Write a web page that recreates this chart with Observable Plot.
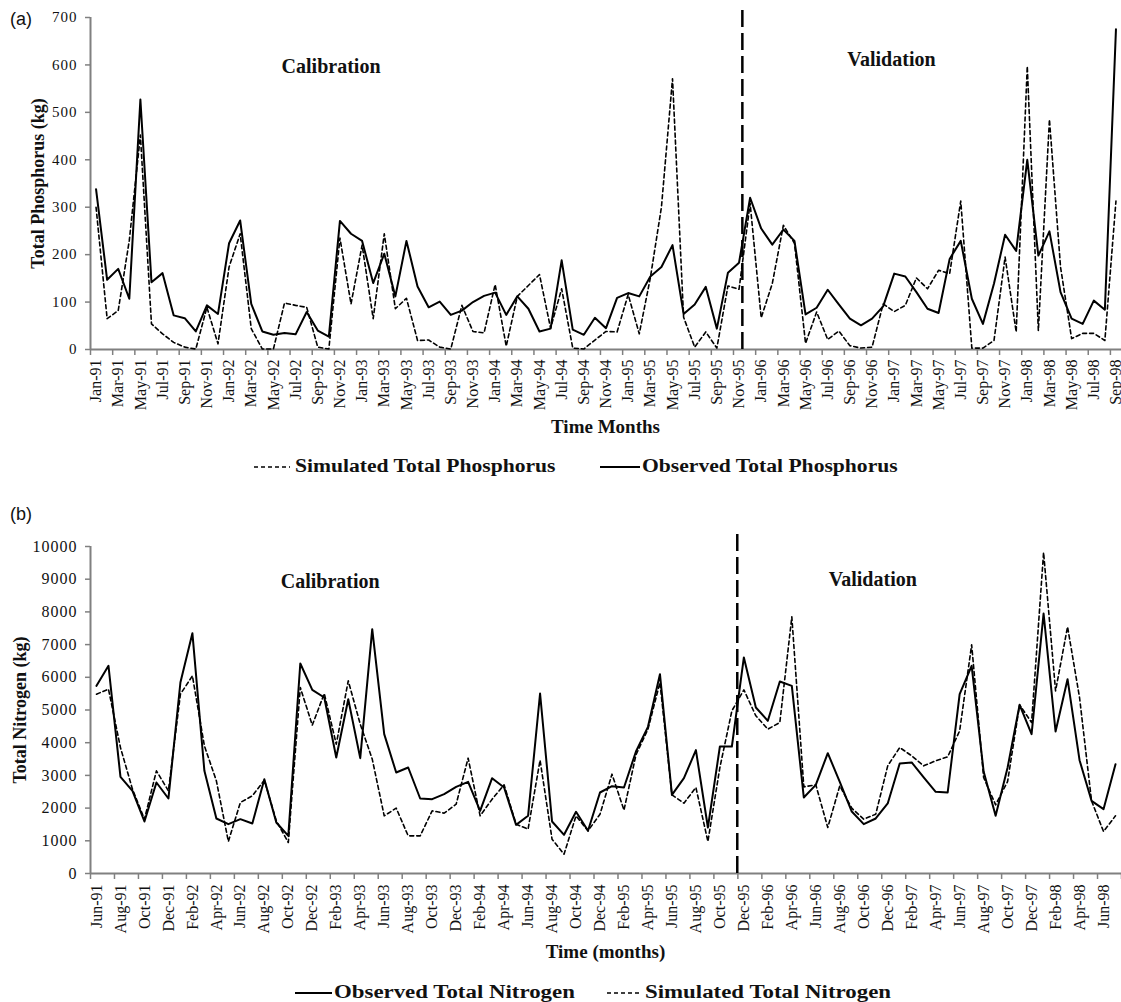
<!DOCTYPE html>
<html>
<head>
<meta charset="utf-8">
<script src="https://cdn.jsdelivr.net/npm/d3@7"></script>
<script src="https://cdn.jsdelivr.net/npm/@observablehq/plot@0.6"></script>
<style>
  body { margin: 0; background: #fff; }
  #wrap { position: relative; width: 1121px; height: 1002px; overflow: hidden; font-family: "Liberation Serif", "Times New Roman", serif; color: #111; background: #fff; }
  .abs { position: absolute; white-space: nowrap; }
  .panel { font-family: "Liberation Sans", Arial, sans-serif; font-size: 18px; line-height: 18px; }
  .xtitle { left: 90px; width: 1031px; text-align: center; font-weight: bold; font-size: 19px; line-height: 19px; }
  .leg { font-weight: bold; font-size: 18px; line-height: 18px; display: inline-block; transform: scaleX(1.2); transform-origin: 0 50%; }
  .legb { transform: scaleX(1.27); }
  .plotbox { position: absolute; left: 0; }
  g[aria-label="y-axis tick label"] text { letter-spacing: 1px; }
</style>
</head>
<body>
<div id="wrap">
  <div class="abs panel" style="left:10px;top:10px;">(a)</div>
  <div class="plotbox" id="pa" style="top:0px;"></div>
  <div class="abs xtitle" style="top:417px;">Time Months</div>
  <svg class="abs" style="left:254px;top:459px;" width="36" height="14"><line x1="0" x2="36" y1="8" y2="8" stroke="#000" stroke-width="1.6" stroke-dasharray="4,3"/></svg>
  <div class="abs" style="left:295px;top:457px;"><span class="leg">Simulated Total Phosphorus</span></div>
  <svg class="abs" style="left:600px;top:459px;" width="40" height="14"><line x1="0" x2="40" y1="8" y2="8" stroke="#000" stroke-width="2"/></svg>
  <div class="abs" style="left:642px;top:457px;"><span class="leg">Observed Total Phosphorus</span></div>

  <div class="abs panel" style="left:10px;top:505px;">(b)</div>
  <div class="plotbox" id="pb" style="top:500px;"></div>
  <div class="abs xtitle" style="top:942px;">Time (months)</div>
  <svg class="abs" style="left:295px;top:985px;" width="37" height="14"><line x1="0" x2="37" y1="8" y2="8" stroke="#000" stroke-width="2"/></svg>
  <div class="abs" style="left:334px;top:983px;"><span class="leg legb">Observed Total Nitrogen</span></div>
  <svg class="abs" style="left:607px;top:985px;" width="33" height="14"><line x1="0" x2="33" y1="8" y2="8" stroke="#000" stroke-width="1.6" stroke-dasharray="4,3"/></svg>
  <div class="abs" style="left:645px;top:983px;"><span class="leg legb">Simulated Total Nitrogen</span></div>
</div>
<script>
// ---------- Panel (a): Total Phosphorus, monthly Jan-91 .. Sep-98 ----------
const tpTickLabels = ["Jan-91","Mar-91","May-91","Jul-91","Sep-91","Nov-91",
  "Jan-92","Mar-92","May-92","Jul-92","Sep-92","Nov-92",
  "Jan-93","Mar-93","May-93","Jul-93","Sep-93","Nov-93",
  "Jan-94","Mar-94","May-94","Jul-94","Sep-94","Nov-94",
  "Jan-95","Mar-95","May-95","Jul-95","Sep-95","Nov-95",
  "Jan-96","Mar-96","May-96","Jul-96","Sep-96","Nov-96",
  "Jan-97","Mar-97","May-97","Jul-97","Sep-97","Nov-97",
  "Jan-98","Mar-98","May-98","Jul-98","Sep-98"];
const obsTP = [338,147,170,107,527,142,161,72,66,38,93,75,
  224,272,96,38,31,35,32,79,40,27,271,244,
  229,140,202,112,229,133,89,101,73,82,100,113,
  120,73,112,86,38,44,188,42,31,67,45,109,
  119,112,154,174,220,75,95,132,44,162,183,320,
  255,221,253,229,74,88,126,95,65,51,65,91,
  160,154,121,86,77,191,229,107,54,139,242,208,
  400,198,249,121,65,54,103,84,675];
const simTP = [300,65,82,230,452,54,33,15,5,1,89,12,
  174,244,44,1,1,98,93,89,5,1,235,96,
  220,65,244,86,108,19,20,5,1,93,38,35,
  137,7,112,135,158,45,128,3,1,20,38,37,
  116,33,151,300,571,68,5,37,3,134,127,308,
  67,139,262,224,13,79,21,39,8,3,5,96,
  80,93,151,128,167,160,313,3,3,19,195,37,
  597,40,485,174,23,34,34,19,313];
const tpYTicks = [0,100,200,300,400,500,600,700];
const tpSplit = 58.3;   // calibration / validation divider (between Nov-95 and Dec-95)

// ---------- Panel (b): Total Nitrogen, monthly Jun-91 .. Jul-98 ----------
const tnTickLabels = ["Jun-91","Aug-91","Oct-91","Dec-91",
  "Feb-92","Apr-92","Jun-92","Aug-92","Oct-92","Dec-92",
  "Feb-93","Apr-93","Jun-93","Aug-93","Oct-93","Dec-93",
  "Feb-94","Apr-94","Jun-94","Aug-94","Oct-94","Dec-94",
  "Feb-95","Apr-95","Jun-95","Aug-95","Oct-95","Dec-95",
  "Feb-96","Apr-96","Jun-96","Aug-96","Oct-96","Dec-96",
  "Feb-97","Apr-97","Jun-97","Aug-97","Oct-97","Dec-97",
  "Feb-98","Apr-98","Jun-98"];
const obsTN = [5739,6350,2956,2528,1590,2783,2294,5841,7350,3140,1682,1509,
  1662,1529,2885,1560,1152,6422,5617,5382,3548,5331,3527,7472,
  4261,3089,3242,2294,2273,2426,2650,2803,1916,2915,2630,1488,
  1764,5505,1590,1183,1886,1305,2477,2671,2630,3731,4485,6096,
  2406,2915,3772,1407,3884,3884,6606,5077,4669,5872,5739,2324,
  2712,3680,2803,1896,1509,1682,2141,3364,3395,2936,2497,2477,
  5484,6351,3119,1764,3242,5158,4261,7951,4343,5943,3466,2222,
  1967,3344];
const simTN = [5484,5637,3850,2579,1662,3140,2528,5484,6045,3904,2834,979,
  2171,2375,2854,1611,948,5688,4536,5504,3955,5892,4567,3500,
  1764,1998,1152,1152,1916,1845,2120,3527,1764,2273,2712,1509,
  1356,3466,1050,591,1764,1305,1814,3038,1937,3629,4414,5841,
  2406,2151,2630,979,3242,4975,5617,4822,4414,4618,7849,2650,
  2712,1407,2681,1998,1662,1814,3293,3853,3598,3293,3446,3568,
  4363,6993,2936,2100,2814,5158,4618,9817,5586,7544,5382,2222,
  1284,1764];
const tnYTicks = [0,1000,2000,3000,4000,5000,6000,7000,8000,9000,10000];
const tnSplit = 53.45;

const axisGray = "#808080";
const baseStyle = {fontFamily: "Liberation Serif, Times New Roman, serif", background: "transparent", overflow: "visible", color: "#111"};

function panel({n, obs, sim, tickLabels, yTicks, yMax, yLabel, split, splitTop, calib, valid,
                height, marginTop, marginBottom, yFont, yLabelDx, xPad}) {
  const labelTicks = tickLabels.map((_, k) => 2 * k);
  const boundaryTicks = d3.range(-0.5, n, 2);
  return Plot.plot({
    width: 1121, height, marginTop, marginBottom, marginLeft: 90, marginRight: 0,
    style: baseStyle,
    x: {domain: [-0.5, n - 0.5]},
    y: {domain: [0, yMax]},
    marks: [
      Plot.axisY({ticks: yTicks, tickFormat: d => String(d), tickSize: 5, tickPadding: 8, fontSize: yFont, stroke: axisGray, fill: "#111", label: null, strokeWidth: 1.5}),
      Plot.axisX({ticks: boundaryTicks, tickFormat: () => "", tickSize: 6, stroke: axisGray, strokeWidth: 1.5, label: null}),
      Plot.axisX({ticks: labelTicks, tickFormat: d => tickLabels[d / 2], tickSize: 0, tickPadding: xPad, tickRotate: -90, fontSize: 16, fill: "#111", label: null}),
      Plot.ruleY([0], {stroke: axisGray, strokeWidth: 2}),
      Plot.ruleX([-0.5], {stroke: axisGray, strokeWidth: 2}),
      Plot.ruleX([split], {y1: 0, y2: splitTop, stroke: "#000", strokeWidth: 2.5, strokeDasharray: "17,6"}),
      Plot.line(sim, {x: (d, i) => i, y: d => d, stroke: "#000", strokeWidth: 1.6, strokeDasharray: "4,3"}),
      Plot.line(obs, {x: (d, i) => i, y: d => d, stroke: "#000", strokeWidth: 2}),
      Plot.text([calib], {x: d => d.x, y: d => d.y, text: d => d.t, fontSize: 20, fontWeight: "bold", lineAnchor: "bottom", fill: "#111"}),
      Plot.text([valid], {x: d => d.x, y: d => d.y, text: d => d.t, fontSize: 20, fontWeight: "bold", lineAnchor: "bottom", fill: "#111"}),
      Plot.text([yLabel], {frameAnchor: "left", dx: yLabelDx, rotate: -90, textAnchor: "middle", text: d => d, fontSize: 18, fontWeight: "bold", fill: "#111"})
    ]
  });
}

document.getElementById("pa").appendChild(panel({
  n: obsTP.length, obs: obsTP, sim: simTP, tickLabels: tpTickLabels, yTicks: tpYTicks, yMax: 700,
  yLabel: "Total Phosphorus (kg)", split: tpSplit, splitTop: 722,
  calib: {x: 21.2, y: 584, t: "Calibration"}, valid: {x: 71.75, y: 597, t: "Validation"},
  height: 420, marginTop: 17, marginBottom: 71, yFont: 15, yLabelDx: -52, xPad: 10
}));

document.getElementById("pb").appendChild(panel({
  n: obsTN.length, obs: obsTN, sim: simTN, tickLabels: tnTickLabels, yTicks: tnYTicks, yMax: 10000,
  yLabel: "Total Nitrogen (kg)", split: tnSplit, splitTop: 10490,
  calib: {x: 19.5, y: 8746, t: "Calibration"}, valid: {x: 64.75, y: 8807, t: "Validation"},
  height: 440, marginTop: 46, marginBottom: 67, yFont: 16, yLabelDx: -70, xPad: 11
}));
</script>
</body>
</html>
